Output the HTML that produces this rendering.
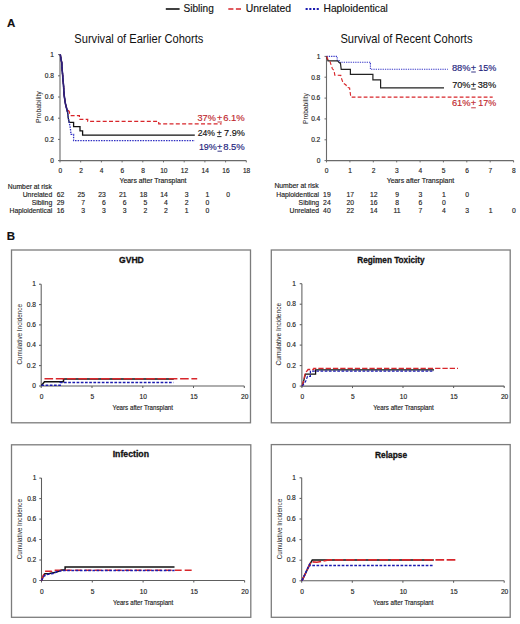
<!DOCTYPE html>
<html><head><meta charset="utf-8"><style>
html,body{margin:0;padding:0;background:#fff;}
svg{display:block;font-family:"Liberation Sans", sans-serif;}
</style></head><body>
<svg width="520" height="624" viewBox="0 0 520 624">
<rect width="520" height="624" fill="#fff"/>
<path d="M165.8,9 H179.6" fill="none" stroke="#111111" stroke-width="1.6"/>
<text x="183.5" y="12.3" font-size="11.2" fill="#111" stroke="#111" stroke-width="0.15" textLength="30.3" lengthAdjust="spacingAndGlyphs">Sibling</text>
<path d="M228.3,9 H241" fill="none" stroke="#d8262b" stroke-width="1.7" stroke-dasharray="5.1,2.5"/>
<text x="245.8" y="12.3" font-size="11.2" fill="#111" stroke="#111" stroke-width="0.15" textLength="45.2" lengthAdjust="spacingAndGlyphs">Unrelated</text>
<path d="M305.6,9 H320" fill="none" stroke="#1c1cb0" stroke-width="1.8" stroke-dasharray="2.1,1.6"/>
<text x="323.5" y="12.3" font-size="11.2" fill="#111" stroke="#111" stroke-width="0.15" textLength="64.4" lengthAdjust="spacingAndGlyphs">Haploidentical</text>
<text x="6.9" y="26.9" font-size="11.5" fill="#111" stroke="#111" stroke-width="0.15" font-weight="bold">A</text>
<text x="6.8" y="239.8" font-size="11.5" fill="#111" stroke="#111" stroke-width="0.15" font-weight="bold">B</text>
<text x="74.3" y="42.5" font-size="13" fill="#111" stroke="#111" stroke-width="0" textLength="129.1" lengthAdjust="spacingAndGlyphs">Survival of Earlier Cohorts</text>
<text x="340.4" y="42.5" font-size="13" fill="#111" stroke="#111" stroke-width="0" textLength="132.1" lengthAdjust="spacingAndGlyphs">Survival of Recent Cohorts</text>
<path d="M60.0,54.6 V160.6 H246.3" fill="none" stroke="#6a6a6a" stroke-width="1.1"/>
<path d="M58.0,160.6 H60.0" fill="none" stroke="#6a6a6a" stroke-width="1"/>
<text x="53.9" y="162.9" font-size="6.6" fill="#222" stroke="#222" stroke-width="0.15" text-anchor="end">0</text>
<path d="M58.0,139.4 H60.0" fill="none" stroke="#6a6a6a" stroke-width="1"/>
<text x="53.9" y="141.7" font-size="6.6" fill="#222" stroke="#222" stroke-width="0.15" text-anchor="end">0.2</text>
<path d="M58.0,118.2 H60.0" fill="none" stroke="#6a6a6a" stroke-width="1"/>
<text x="53.9" y="120.5" font-size="6.6" fill="#222" stroke="#222" stroke-width="0.15" text-anchor="end">0.4</text>
<path d="M58.0,97.0 H60.0" fill="none" stroke="#6a6a6a" stroke-width="1"/>
<text x="53.9" y="99.3" font-size="6.6" fill="#222" stroke="#222" stroke-width="0.15" text-anchor="end">0.6</text>
<path d="M58.0,75.8 H60.0" fill="none" stroke="#6a6a6a" stroke-width="1"/>
<text x="53.9" y="78.1" font-size="6.6" fill="#222" stroke="#222" stroke-width="0.15" text-anchor="end">0.8</text>
<path d="M58.0,54.6 H60.0" fill="none" stroke="#6a6a6a" stroke-width="1"/>
<text x="53.9" y="56.9" font-size="6.6" fill="#222" stroke="#222" stroke-width="0.15" text-anchor="end">1</text>
<path d="M60.0,160.6 V162.4" fill="none" stroke="#6a6a6a" stroke-width="1"/>
<text x="60.3" y="172.9" font-size="6.6" fill="#222" stroke="#222" stroke-width="0.15" text-anchor="middle">0</text>
<path d="M80.7,160.6 V162.4" fill="none" stroke="#6a6a6a" stroke-width="1"/>
<text x="81.0" y="172.9" font-size="6.6" fill="#222" stroke="#222" stroke-width="0.15" text-anchor="middle">2</text>
<path d="M101.4,160.6 V162.4" fill="none" stroke="#6a6a6a" stroke-width="1"/>
<text x="101.7" y="172.9" font-size="6.6" fill="#222" stroke="#222" stroke-width="0.15" text-anchor="middle">4</text>
<path d="M122.1,160.6 V162.4" fill="none" stroke="#6a6a6a" stroke-width="1"/>
<text x="122.4" y="172.9" font-size="6.6" fill="#222" stroke="#222" stroke-width="0.15" text-anchor="middle">6</text>
<path d="M142.8,160.6 V162.4" fill="none" stroke="#6a6a6a" stroke-width="1"/>
<text x="143.1" y="172.9" font-size="6.6" fill="#222" stroke="#222" stroke-width="0.15" text-anchor="middle">8</text>
<path d="M163.5,160.6 V162.4" fill="none" stroke="#6a6a6a" stroke-width="1"/>
<text x="163.8" y="172.9" font-size="6.6" fill="#222" stroke="#222" stroke-width="0.15" text-anchor="middle">10</text>
<path d="M184.2,160.6 V162.4" fill="none" stroke="#6a6a6a" stroke-width="1"/>
<text x="184.5" y="172.9" font-size="6.6" fill="#222" stroke="#222" stroke-width="0.15" text-anchor="middle">12</text>
<path d="M204.9,160.6 V162.4" fill="none" stroke="#6a6a6a" stroke-width="1"/>
<text x="205.2" y="172.9" font-size="6.6" fill="#222" stroke="#222" stroke-width="0.15" text-anchor="middle">14</text>
<path d="M225.6,160.6 V162.4" fill="none" stroke="#6a6a6a" stroke-width="1"/>
<text x="225.9" y="172.9" font-size="6.6" fill="#222" stroke="#222" stroke-width="0.15" text-anchor="middle">16</text>
<path d="M246.3,160.6 V162.4" fill="none" stroke="#6a6a6a" stroke-width="1"/>
<text x="246.6" y="172.9" font-size="6.6" fill="#222" stroke="#222" stroke-width="0.15" text-anchor="middle">18</text>
<text x="119.5" y="183.1" font-size="6.6" fill="#222" stroke="#222" stroke-width="0.15" textLength="67.0" lengthAdjust="spacingAndGlyphs">Years after Transplant</text>
<text transform="translate(41.2,107.2) rotate(-90)" font-size="6.6" fill="#222" text-anchor="middle" textLength="31.8" lengthAdjust="spacingAndGlyphs">Probability</text>
<path d="M60.3,54.5 L61.1,59.6 L61.8,62.8 L62.1,69.2 L62.7,75.6 L63.0,80.1 L63.5,85.0 L64.1,94.6 L64.7,99.1 L65.4,103.6 L66.7,108.7 L68.6,110.6 L69.5,112.0 L69.5,114.5 L71.0,115.6 L79.4,115.6 L79.4,119.4 L87.7,119.4 L87.7,121.3 L158.7,121.3 L158.7,123.8 L221.6,123.8" fill="none" stroke="#d8262b" stroke-width="1.2" stroke-dasharray="4,2.3"/>
<path d="M60.3,54.5 L61.1,59.6 L61.8,62.8 L62.1,69.2 L62.7,75.6 L63.0,80.1 L63.5,85.0 L64.1,94.6 L64.7,99.1 L65.4,103.6 L66.7,108.7 L67.6,112.2 L68.3,118.3 L69.2,122.3 L73.6,122.3 L73.6,126.7 L80.0,126.7 L80.0,130.9 L82.6,130.9 L82.6,135.1 L194.8,135.1" fill="none" stroke="#111111" stroke-width="1.3"/>
<path d="M60.3,54.5 L61.1,59.6 L61.8,62.8 L62.1,69.2 L62.7,75.6 L63.0,80.1 L63.5,85.0 L64.1,94.6 L64.7,99.1 L65.4,103.6 L66.7,108.7 L67.6,112.2 L68.3,118.3 L69.2,122.3 L70.4,128.6 L71.0,134.4 L73.6,134.4 L73.6,140.6 L194.8,140.6" fill="none" stroke="#3030c4" stroke-width="1.3" stroke-dasharray="1.5,1.1"/>
<path d="M60.3,54.5 L61.1,59.6 L61.8,62.8 L62.1,69.2 L62.7,75.6 L63.0,80.1 L63.5,85.0 L64.1,94.6 L64.7,99.1 L65.4,103.6 L66.7,108.7 L67.6,112.2" fill="none" stroke="#30207a" stroke-width="1.6"/>
<text x="197.5" y="120.6" font-size="9" fill="#c0272d" stroke="#c0272d" stroke-width="0.15" textLength="18.3" lengthAdjust="spacingAndGlyphs">37%</text>
<text x="217.1" y="120.6" font-size="9" fill="#c0272d" stroke="#c0272d" stroke-width="0.15" textLength="5.3" lengthAdjust="spacingAndGlyphs">+</text>
<path d="M217.5,122.0 H222.0" fill="none" stroke="#c0272d" stroke-width="0.9"/>
<text x="223.2" y="120.6" font-size="9" fill="#c0272d" stroke="#c0272d" stroke-width="0.15" textLength="21.6" lengthAdjust="spacingAndGlyphs">6.1%</text>
<text x="197.7" y="135.7" font-size="9" fill="#111111" stroke="#111111" stroke-width="0.15" textLength="17.2" lengthAdjust="spacingAndGlyphs">24%</text>
<text x="216.8" y="135.7" font-size="9" fill="#111111" stroke="#111111" stroke-width="0.15" textLength="5.1" lengthAdjust="spacingAndGlyphs">+</text>
<path d="M217.2,136.6 H221.5" fill="none" stroke="#111111" stroke-width="0.9"/>
<text x="224.1" y="135.7" font-size="9" fill="#111111" stroke="#111111" stroke-width="0.15" textLength="20.7" lengthAdjust="spacingAndGlyphs">7.9%</text>
<text x="198.9" y="149.6" font-size="9" fill="#22227c" stroke="#22227c" stroke-width="0.15" textLength="17.9" lengthAdjust="spacingAndGlyphs">19%</text>
<text x="217.1" y="149.6" font-size="9" fill="#22227c" stroke="#22227c" stroke-width="0.15" textLength="5.3" lengthAdjust="spacingAndGlyphs">+</text>
<path d="M217.5,151.2 H222.0" fill="none" stroke="#22227c" stroke-width="0.9"/>
<text x="223.2" y="149.6" font-size="9" fill="#22227c" stroke="#22227c" stroke-width="0.15" textLength="21.6" lengthAdjust="spacingAndGlyphs">8.5%</text>
<text x="7.8" y="188.5" font-size="6.6" fill="#222" stroke="#222" stroke-width="0.15" textLength="44.1" lengthAdjust="spacingAndGlyphs">Number at risk</text>
<text x="52.2" y="196.5" font-size="6.8" fill="#222" stroke="#222" stroke-width="0.15" text-anchor="end">Unrelated</text>
<text x="64.4" y="196.5" font-size="6.8" fill="#222" stroke="#222" stroke-width="0.15" text-anchor="end">62</text>
<text x="85.1" y="196.5" font-size="6.8" fill="#222" stroke="#222" stroke-width="0.15" text-anchor="end">25</text>
<text x="105.8" y="196.5" font-size="6.8" fill="#222" stroke="#222" stroke-width="0.15" text-anchor="end">23</text>
<text x="126.5" y="196.5" font-size="6.8" fill="#222" stroke="#222" stroke-width="0.15" text-anchor="end">21</text>
<text x="147.2" y="196.5" font-size="6.8" fill="#222" stroke="#222" stroke-width="0.15" text-anchor="end">18</text>
<text x="167.9" y="196.5" font-size="6.8" fill="#222" stroke="#222" stroke-width="0.15" text-anchor="end">14</text>
<text x="188.6" y="196.5" font-size="6.8" fill="#222" stroke="#222" stroke-width="0.15" text-anchor="end">3</text>
<text x="209.3" y="196.5" font-size="6.8" fill="#222" stroke="#222" stroke-width="0.15" text-anchor="end">1</text>
<text x="230.0" y="196.5" font-size="6.8" fill="#222" stroke="#222" stroke-width="0.15" text-anchor="end">0</text>
<text x="52.2" y="204.6" font-size="6.8" fill="#222" stroke="#222" stroke-width="0.15" text-anchor="end">Sibling</text>
<text x="64.4" y="204.6" font-size="6.8" fill="#222" stroke="#222" stroke-width="0.15" text-anchor="end">29</text>
<text x="85.1" y="204.6" font-size="6.8" fill="#222" stroke="#222" stroke-width="0.15" text-anchor="end">7</text>
<text x="105.8" y="204.6" font-size="6.8" fill="#222" stroke="#222" stroke-width="0.15" text-anchor="end">6</text>
<text x="126.5" y="204.6" font-size="6.8" fill="#222" stroke="#222" stroke-width="0.15" text-anchor="end">6</text>
<text x="147.2" y="204.6" font-size="6.8" fill="#222" stroke="#222" stroke-width="0.15" text-anchor="end">5</text>
<text x="167.9" y="204.6" font-size="6.8" fill="#222" stroke="#222" stroke-width="0.15" text-anchor="end">4</text>
<text x="188.6" y="204.6" font-size="6.8" fill="#222" stroke="#222" stroke-width="0.15" text-anchor="end">2</text>
<text x="209.3" y="204.6" font-size="6.8" fill="#222" stroke="#222" stroke-width="0.15" text-anchor="end">0</text>
<text x="52.2" y="212.7" font-size="6.8" fill="#222" stroke="#222" stroke-width="0.15" text-anchor="end">Haploidentical</text>
<text x="64.4" y="212.7" font-size="6.8" fill="#222" stroke="#222" stroke-width="0.15" text-anchor="end">16</text>
<text x="85.1" y="212.7" font-size="6.8" fill="#222" stroke="#222" stroke-width="0.15" text-anchor="end">3</text>
<text x="105.8" y="212.7" font-size="6.8" fill="#222" stroke="#222" stroke-width="0.15" text-anchor="end">3</text>
<text x="126.5" y="212.7" font-size="6.8" fill="#222" stroke="#222" stroke-width="0.15" text-anchor="end">3</text>
<text x="147.2" y="212.7" font-size="6.8" fill="#222" stroke="#222" stroke-width="0.15" text-anchor="end">2</text>
<text x="167.9" y="212.7" font-size="6.8" fill="#222" stroke="#222" stroke-width="0.15" text-anchor="end">2</text>
<text x="188.6" y="212.7" font-size="6.8" fill="#222" stroke="#222" stroke-width="0.15" text-anchor="end">1</text>
<text x="209.3" y="212.7" font-size="6.8" fill="#222" stroke="#222" stroke-width="0.15" text-anchor="end">0</text>
<path d="M326.5,56.4 V160.6 H513.6" fill="none" stroke="#6a6a6a" stroke-width="1.1"/>
<path d="M324.5,160.6 H326.5" fill="none" stroke="#6a6a6a" stroke-width="1"/>
<text x="320.3" y="162.9" font-size="6.6" fill="#222" stroke="#222" stroke-width="0.15" text-anchor="end">0</text>
<path d="M324.5,139.8 H326.5" fill="none" stroke="#6a6a6a" stroke-width="1"/>
<text x="320.3" y="142.1" font-size="6.6" fill="#222" stroke="#222" stroke-width="0.15" text-anchor="end">0.2</text>
<path d="M324.5,118.9 H326.5" fill="none" stroke="#6a6a6a" stroke-width="1"/>
<text x="320.3" y="121.2" font-size="6.6" fill="#222" stroke="#222" stroke-width="0.15" text-anchor="end">0.4</text>
<path d="M324.5,98.1 H326.5" fill="none" stroke="#6a6a6a" stroke-width="1"/>
<text x="320.3" y="100.4" font-size="6.6" fill="#222" stroke="#222" stroke-width="0.15" text-anchor="end">0.6</text>
<path d="M324.5,77.2 H326.5" fill="none" stroke="#6a6a6a" stroke-width="1"/>
<text x="320.3" y="79.5" font-size="6.6" fill="#222" stroke="#222" stroke-width="0.15" text-anchor="end">0.8</text>
<path d="M324.5,56.4 H326.5" fill="none" stroke="#6a6a6a" stroke-width="1"/>
<text x="320.3" y="58.7" font-size="6.6" fill="#222" stroke="#222" stroke-width="0.15" text-anchor="end">1</text>
<path d="M326.5,160.6 V162.4" fill="none" stroke="#6a6a6a" stroke-width="1"/>
<text x="326.7" y="172.9" font-size="6.6" fill="#222" stroke="#222" stroke-width="0.15" text-anchor="middle">0</text>
<path d="M349.9,160.6 V162.4" fill="none" stroke="#6a6a6a" stroke-width="1"/>
<text x="350.1" y="172.9" font-size="6.6" fill="#222" stroke="#222" stroke-width="0.15" text-anchor="middle">1</text>
<path d="M373.3,160.6 V162.4" fill="none" stroke="#6a6a6a" stroke-width="1"/>
<text x="373.5" y="172.9" font-size="6.6" fill="#222" stroke="#222" stroke-width="0.15" text-anchor="middle">2</text>
<path d="M396.7,160.6 V162.4" fill="none" stroke="#6a6a6a" stroke-width="1"/>
<text x="396.9" y="172.9" font-size="6.6" fill="#222" stroke="#222" stroke-width="0.15" text-anchor="middle">3</text>
<path d="M420.1,160.6 V162.4" fill="none" stroke="#6a6a6a" stroke-width="1"/>
<text x="420.3" y="172.9" font-size="6.6" fill="#222" stroke="#222" stroke-width="0.15" text-anchor="middle">4</text>
<path d="M443.4,160.6 V162.4" fill="none" stroke="#6a6a6a" stroke-width="1"/>
<text x="443.6" y="172.9" font-size="6.6" fill="#222" stroke="#222" stroke-width="0.15" text-anchor="middle">5</text>
<path d="M466.8,160.6 V162.4" fill="none" stroke="#6a6a6a" stroke-width="1"/>
<text x="467.0" y="172.9" font-size="6.6" fill="#222" stroke="#222" stroke-width="0.15" text-anchor="middle">6</text>
<path d="M490.2,160.6 V162.4" fill="none" stroke="#6a6a6a" stroke-width="1"/>
<text x="490.4" y="172.9" font-size="6.6" fill="#222" stroke="#222" stroke-width="0.15" text-anchor="middle">7</text>
<path d="M513.6,160.6 V162.4" fill="none" stroke="#6a6a6a" stroke-width="1"/>
<text x="513.8" y="172.9" font-size="6.6" fill="#222" stroke="#222" stroke-width="0.15" text-anchor="middle">8</text>
<text x="386.7" y="183.2" font-size="6.6" fill="#222" stroke="#222" stroke-width="0.15" textLength="67.5" lengthAdjust="spacingAndGlyphs">Years after Transplant</text>
<text transform="translate(307.6,108.6) rotate(-90)" font-size="6.6" fill="#222" text-anchor="middle" textLength="30.7" lengthAdjust="spacingAndGlyphs">Probability</text>
<path d="M326.5,56.4 L337.2,56.4 L337.2,60.6 L339.2,60.6 L339.2,62.2 L370.4,62.2 L370.4,69.3 L447.9,69.3" fill="none" stroke="#3838c8" stroke-width="1.1" stroke-dasharray="1.3,1.0"/>
<path d="M326.5,56.4 L328.0,60.8 L337.6,60.8 L339.5,62.8 L340.4,62.8 L341.2,69.4 L350.4,69.4 L350.4,74.4 L372.9,74.4 L372.9,79.8 L380.6,79.8 L380.6,87.9 L444.0,87.9" fill="none" stroke="#222" stroke-width="1.2"/>
<path d="M326.5,56.4 L328.0,59.6 L330.0,61.6 L332.4,68.8 L334.0,70.4 L334.8,75.2 L340.8,75.4 L341.2,77.6 L343.2,83.2 L346.0,84.9 L346.8,87.3 L349.6,88.0 L350.8,97.1 L492.7,97.1" fill="none" stroke="#d8262b" stroke-width="1.15" stroke-dasharray="3.8,2.2"/>
<text x="451.9" y="70.6" font-size="9" fill="#22227c" stroke="#22227c" stroke-width="0.15" textLength="18.6" lengthAdjust="spacingAndGlyphs">88%</text>
<text x="470.8" y="70.6" font-size="9" fill="#22227c" stroke="#22227c" stroke-width="0.15" textLength="5.4" lengthAdjust="spacingAndGlyphs">+</text>
<path d="M471.2,72.0 H475.8" fill="none" stroke="#22227c" stroke-width="0.9"/>
<text x="478.2" y="70.6" font-size="9" fill="#22227c" stroke="#22227c" stroke-width="0.15" textLength="18.1" lengthAdjust="spacingAndGlyphs">15%</text>
<text x="452.2" y="87.6" font-size="9" fill="#111111" stroke="#111111" stroke-width="0.15" textLength="18.3" lengthAdjust="spacingAndGlyphs">70%</text>
<text x="470.8" y="87.6" font-size="9" fill="#111111" stroke="#111111" stroke-width="0.15" textLength="5.4" lengthAdjust="spacingAndGlyphs">+</text>
<path d="M471.2,89.0 H475.8" fill="none" stroke="#111111" stroke-width="0.9"/>
<text x="477.7" y="87.6" font-size="9" fill="#111111" stroke="#111111" stroke-width="0.15" textLength="18.4" lengthAdjust="spacingAndGlyphs">38%</text>
<text x="451.9" y="106.3" font-size="9" fill="#c0272d" stroke="#c0272d" stroke-width="0.15" textLength="18.6" lengthAdjust="spacingAndGlyphs">61%</text>
<text x="470.8" y="106.3" font-size="9" fill="#c0272d" stroke="#c0272d" stroke-width="0.15" textLength="5.4" lengthAdjust="spacingAndGlyphs">+</text>
<path d="M471.2,107.8 H475.8" fill="none" stroke="#c0272d" stroke-width="0.9"/>
<text x="478.2" y="106.3" font-size="9" fill="#c0272d" stroke="#c0272d" stroke-width="0.15" textLength="17.9" lengthAdjust="spacingAndGlyphs">17%</text>
<text x="274.4" y="187.5" font-size="6.6" fill="#222" stroke="#222" stroke-width="0.15" textLength="44.3" lengthAdjust="spacingAndGlyphs">Number at risk</text>
<text x="319.0" y="196.6" font-size="6.8" fill="#222" stroke="#222" stroke-width="0.15" text-anchor="end">Haploidentical</text>
<text x="326.9" y="196.6" font-size="6.8" fill="#222" stroke="#222" stroke-width="0.15" text-anchor="middle">19</text>
<text x="350.3" y="196.6" font-size="6.8" fill="#222" stroke="#222" stroke-width="0.15" text-anchor="middle">17</text>
<text x="373.7" y="196.6" font-size="6.8" fill="#222" stroke="#222" stroke-width="0.15" text-anchor="middle">12</text>
<text x="397.1" y="196.6" font-size="6.8" fill="#222" stroke="#222" stroke-width="0.15" text-anchor="middle">9</text>
<text x="420.5" y="196.6" font-size="6.8" fill="#222" stroke="#222" stroke-width="0.15" text-anchor="middle">3</text>
<text x="443.8" y="196.6" font-size="6.8" fill="#222" stroke="#222" stroke-width="0.15" text-anchor="middle">1</text>
<text x="467.2" y="196.6" font-size="6.8" fill="#222" stroke="#222" stroke-width="0.15" text-anchor="middle">0</text>
<text x="319.0" y="204.7" font-size="6.8" fill="#222" stroke="#222" stroke-width="0.15" text-anchor="end">Sibling</text>
<text x="326.9" y="204.7" font-size="6.8" fill="#222" stroke="#222" stroke-width="0.15" text-anchor="middle">24</text>
<text x="350.3" y="204.7" font-size="6.8" fill="#222" stroke="#222" stroke-width="0.15" text-anchor="middle">20</text>
<text x="373.7" y="204.7" font-size="6.8" fill="#222" stroke="#222" stroke-width="0.15" text-anchor="middle">16</text>
<text x="397.1" y="204.7" font-size="6.8" fill="#222" stroke="#222" stroke-width="0.15" text-anchor="middle">8</text>
<text x="420.5" y="204.7" font-size="6.8" fill="#222" stroke="#222" stroke-width="0.15" text-anchor="middle">6</text>
<text x="443.8" y="204.7" font-size="6.8" fill="#222" stroke="#222" stroke-width="0.15" text-anchor="middle">0</text>
<text x="319.0" y="212.9" font-size="6.8" fill="#222" stroke="#222" stroke-width="0.15" text-anchor="end">Unrelated</text>
<text x="326.9" y="212.9" font-size="6.8" fill="#222" stroke="#222" stroke-width="0.15" text-anchor="middle">40</text>
<text x="350.3" y="212.9" font-size="6.8" fill="#222" stroke="#222" stroke-width="0.15" text-anchor="middle">22</text>
<text x="373.7" y="212.9" font-size="6.8" fill="#222" stroke="#222" stroke-width="0.15" text-anchor="middle">14</text>
<text x="397.1" y="212.9" font-size="6.8" fill="#222" stroke="#222" stroke-width="0.15" text-anchor="middle">11</text>
<text x="420.5" y="212.9" font-size="6.8" fill="#222" stroke="#222" stroke-width="0.15" text-anchor="middle">7</text>
<text x="443.8" y="212.9" font-size="6.8" fill="#222" stroke="#222" stroke-width="0.15" text-anchor="middle">4</text>
<text x="467.2" y="212.9" font-size="6.8" fill="#222" stroke="#222" stroke-width="0.15" text-anchor="middle">3</text>
<text x="490.6" y="212.9" font-size="6.8" fill="#222" stroke="#222" stroke-width="0.15" text-anchor="middle">1</text>
<text x="514.0" y="212.9" font-size="6.8" fill="#222" stroke="#222" stroke-width="0.15" text-anchor="middle">0</text>
<rect x="11.5" y="250" width="239" height="172.8" fill="none" stroke="#7c7c7c" stroke-width="1.3"/>
<text x="119.0" y="262.8" font-size="8.8" fill="#111" stroke="#111" stroke-width="0.3" font-weight="bold" textLength="24.8" lengthAdjust="spacingAndGlyphs">GVHD</text>
<path d="M41.2,284.2 V386.0 H244.3" fill="none" stroke="#5e5e5e" stroke-width="1.05"/>
<path d="M39.0,386.0 H41.2" fill="none" stroke="#5e5e5e" stroke-width="1.05"/>
<text x="36.0" y="388.0" font-size="6.6" fill="#222" stroke="#222" stroke-width="0.15" text-anchor="end">0</text>
<path d="M39.0,365.6 H41.2" fill="none" stroke="#5e5e5e" stroke-width="1.05"/>
<text x="36.0" y="367.6" font-size="6.6" fill="#222" stroke="#222" stroke-width="0.15" text-anchor="end">0.2</text>
<path d="M39.0,345.3 H41.2" fill="none" stroke="#5e5e5e" stroke-width="1.05"/>
<text x="36.0" y="347.3" font-size="6.6" fill="#222" stroke="#222" stroke-width="0.15" text-anchor="end">0.4</text>
<path d="M39.0,324.9 H41.2" fill="none" stroke="#5e5e5e" stroke-width="1.05"/>
<text x="36.0" y="326.9" font-size="6.6" fill="#222" stroke="#222" stroke-width="0.15" text-anchor="end">0.6</text>
<path d="M39.0,304.6 H41.2" fill="none" stroke="#5e5e5e" stroke-width="1.05"/>
<text x="36.0" y="306.6" font-size="6.6" fill="#222" stroke="#222" stroke-width="0.15" text-anchor="end">0.8</text>
<path d="M39.0,284.2 H41.2" fill="none" stroke="#5e5e5e" stroke-width="1.05"/>
<text x="36.0" y="286.2" font-size="6.6" fill="#222" stroke="#222" stroke-width="0.15" text-anchor="end">1</text>
<path d="M41.2,386.0 V388.0" fill="none" stroke="#5e5e5e" stroke-width="1.05"/>
<text x="41.6" y="399.2" font-size="6.6" fill="#222" stroke="#222" stroke-width="0.15" text-anchor="middle">0</text>
<path d="M92.0,386.0 V388.0" fill="none" stroke="#5e5e5e" stroke-width="1.05"/>
<text x="92.4" y="399.2" font-size="6.6" fill="#222" stroke="#222" stroke-width="0.15" text-anchor="middle">5</text>
<path d="M142.8,386.0 V388.0" fill="none" stroke="#5e5e5e" stroke-width="1.05"/>
<text x="143.2" y="399.2" font-size="6.6" fill="#222" stroke="#222" stroke-width="0.15" text-anchor="middle">10</text>
<path d="M193.5,386.0 V388.0" fill="none" stroke="#5e5e5e" stroke-width="1.05"/>
<text x="193.9" y="399.2" font-size="6.6" fill="#222" stroke="#222" stroke-width="0.15" text-anchor="middle">15</text>
<path d="M244.3,386.0 V388.0" fill="none" stroke="#5e5e5e" stroke-width="1.05"/>
<text x="244.7" y="399.2" font-size="6.6" fill="#222" stroke="#222" stroke-width="0.15" text-anchor="middle">20</text>
<text x="112.6" y="410.1" font-size="6.6" fill="#222" stroke="#222" stroke-width="0.15" textLength="60.4" lengthAdjust="spacingAndGlyphs">Years after Transplant</text>
<text transform="translate(21.5,334.3) rotate(-90)" font-size="6.8" fill="#222" text-anchor="middle" textLength="60.6" lengthAdjust="spacingAndGlyphs">Cumulative Incidence</text>
<path d="M41.4,385.5 L44.5,381.8 L63.5,381.8 L63.5,379.0 L173.8,379.0" fill="none" stroke="#111111" stroke-width="1.5"/>
<path d="M44.5,378.8 L197.2,378.8" fill="none" stroke="#d8262b" stroke-width="1.6" stroke-dasharray="8.6,2.7"/>
<path d="M41.4,385.2 L60.2,385.2 L60.2,382.6 L173.5,382.6" fill="none" stroke="#1c1cb0" stroke-width="1.5" stroke-dasharray="2.7,1.5"/>
<rect x="271.3" y="250" width="238.9" height="172.8" fill="none" stroke="#7c7c7c" stroke-width="1.3"/>
<text x="357.3" y="263.1" font-size="8.8" fill="#111" stroke="#111" stroke-width="0.3" font-weight="bold" textLength="67.3" lengthAdjust="spacingAndGlyphs">Regimen Toxicity</text>
<path d="M301.9,283.7 V386.1 H504.2" fill="none" stroke="#5e5e5e" stroke-width="1.05"/>
<path d="M299.7,386.1 H301.9" fill="none" stroke="#5e5e5e" stroke-width="1.05"/>
<text x="296.0" y="388.1" font-size="6.6" fill="#222" stroke="#222" stroke-width="0.15" text-anchor="end">0</text>
<path d="M299.7,365.6 H301.9" fill="none" stroke="#5e5e5e" stroke-width="1.05"/>
<text x="296.0" y="367.6" font-size="6.6" fill="#222" stroke="#222" stroke-width="0.15" text-anchor="end">0.2</text>
<path d="M299.7,345.1 H301.9" fill="none" stroke="#5e5e5e" stroke-width="1.05"/>
<text x="296.0" y="347.1" font-size="6.6" fill="#222" stroke="#222" stroke-width="0.15" text-anchor="end">0.4</text>
<path d="M299.7,324.7 H301.9" fill="none" stroke="#5e5e5e" stroke-width="1.05"/>
<text x="296.0" y="326.7" font-size="6.6" fill="#222" stroke="#222" stroke-width="0.15" text-anchor="end">0.6</text>
<path d="M299.7,304.2 H301.9" fill="none" stroke="#5e5e5e" stroke-width="1.05"/>
<text x="296.0" y="306.2" font-size="6.6" fill="#222" stroke="#222" stroke-width="0.15" text-anchor="end">0.8</text>
<path d="M299.7,283.7 H301.9" fill="none" stroke="#5e5e5e" stroke-width="1.05"/>
<text x="296.0" y="285.7" font-size="6.6" fill="#222" stroke="#222" stroke-width="0.15" text-anchor="end">1</text>
<path d="M301.9,386.1 V388.1" fill="none" stroke="#5e5e5e" stroke-width="1.05"/>
<text x="302.3" y="399.3" font-size="6.6" fill="#222" stroke="#222" stroke-width="0.15" text-anchor="middle">0</text>
<path d="M352.5,386.1 V388.1" fill="none" stroke="#5e5e5e" stroke-width="1.05"/>
<text x="352.9" y="399.3" font-size="6.6" fill="#222" stroke="#222" stroke-width="0.15" text-anchor="middle">5</text>
<path d="M403.0,386.1 V388.1" fill="none" stroke="#5e5e5e" stroke-width="1.05"/>
<text x="403.4" y="399.3" font-size="6.6" fill="#222" stroke="#222" stroke-width="0.15" text-anchor="middle">10</text>
<path d="M453.6,386.1 V388.1" fill="none" stroke="#5e5e5e" stroke-width="1.05"/>
<text x="454.0" y="399.3" font-size="6.6" fill="#222" stroke="#222" stroke-width="0.15" text-anchor="middle">15</text>
<path d="M504.2,386.1 V388.1" fill="none" stroke="#5e5e5e" stroke-width="1.05"/>
<text x="504.6" y="399.3" font-size="6.6" fill="#222" stroke="#222" stroke-width="0.15" text-anchor="middle">20</text>
<text x="373.3" y="410.2" font-size="6.6" fill="#222" stroke="#222" stroke-width="0.15" textLength="60.4" lengthAdjust="spacingAndGlyphs">Years after Transplant</text>
<text transform="translate(281.3,334.2) rotate(-90)" font-size="6.8" fill="#222" text-anchor="middle" textLength="62.5" lengthAdjust="spacingAndGlyphs">Cumulative Incidence</text>
<path d="M302.3,386.0 L305.5,374.0 L315.6,374.0 L315.6,369.9 L434.0,369.9" fill="none" stroke="#111111" stroke-width="1.25"/>
<path d="M302.3,386.0 L305.2,373.5 L306.3,371.8 L308.1,369.5 L313.8,369.5 L313.8,368.3 L458.0,368.3" fill="none" stroke="#d8262b" stroke-width="1.3" stroke-dasharray="5.3,2"/>
<path d="M302.3,386.0 L305.8,381.0 L307.5,376.4 L310.4,376.4 L310.4,371.0 L434.0,371.0" fill="none" stroke="#1c1cb0" stroke-width="1.25" stroke-dasharray="2.7,1.5"/>
<rect x="11.5" y="444.8" width="239.3" height="172.5" fill="none" stroke="#7c7c7c" stroke-width="1.3"/>
<text x="112.7" y="457.1" font-size="8.8" fill="#111" stroke="#111" stroke-width="0.3" font-weight="bold" textLength="36.3" lengthAdjust="spacingAndGlyphs">Infection</text>
<path d="M41.5,478.1 V580.5 H244.6" fill="none" stroke="#5e5e5e" stroke-width="1.05"/>
<path d="M39.3,580.5 H41.5" fill="none" stroke="#5e5e5e" stroke-width="1.05"/>
<text x="36.3" y="582.5" font-size="6.6" fill="#222" stroke="#222" stroke-width="0.15" text-anchor="end">0</text>
<path d="M39.3,560.0 H41.5" fill="none" stroke="#5e5e5e" stroke-width="1.05"/>
<text x="36.3" y="562.0" font-size="6.6" fill="#222" stroke="#222" stroke-width="0.15" text-anchor="end">0.2</text>
<path d="M39.3,539.5 H41.5" fill="none" stroke="#5e5e5e" stroke-width="1.05"/>
<text x="36.3" y="541.5" font-size="6.6" fill="#222" stroke="#222" stroke-width="0.15" text-anchor="end">0.4</text>
<path d="M39.3,519.1 H41.5" fill="none" stroke="#5e5e5e" stroke-width="1.05"/>
<text x="36.3" y="521.1" font-size="6.6" fill="#222" stroke="#222" stroke-width="0.15" text-anchor="end">0.6</text>
<path d="M39.3,498.6 H41.5" fill="none" stroke="#5e5e5e" stroke-width="1.05"/>
<text x="36.3" y="500.6" font-size="6.6" fill="#222" stroke="#222" stroke-width="0.15" text-anchor="end">0.8</text>
<path d="M39.3,478.1 H41.5" fill="none" stroke="#5e5e5e" stroke-width="1.05"/>
<text x="36.3" y="480.1" font-size="6.6" fill="#222" stroke="#222" stroke-width="0.15" text-anchor="end">1</text>
<path d="M41.5,580.5 V582.5" fill="none" stroke="#5e5e5e" stroke-width="1.05"/>
<text x="41.9" y="593.7" font-size="6.6" fill="#222" stroke="#222" stroke-width="0.15" text-anchor="middle">0</text>
<path d="M92.3,580.5 V582.5" fill="none" stroke="#5e5e5e" stroke-width="1.05"/>
<text x="92.7" y="593.7" font-size="6.6" fill="#222" stroke="#222" stroke-width="0.15" text-anchor="middle">5</text>
<path d="M143.1,580.5 V582.5" fill="none" stroke="#5e5e5e" stroke-width="1.05"/>
<text x="143.5" y="593.7" font-size="6.6" fill="#222" stroke="#222" stroke-width="0.15" text-anchor="middle">10</text>
<path d="M193.8,580.5 V582.5" fill="none" stroke="#5e5e5e" stroke-width="1.05"/>
<text x="194.2" y="593.7" font-size="6.6" fill="#222" stroke="#222" stroke-width="0.15" text-anchor="middle">15</text>
<path d="M244.6,580.5 V582.5" fill="none" stroke="#5e5e5e" stroke-width="1.05"/>
<text x="245.0" y="593.7" font-size="6.6" fill="#222" stroke="#222" stroke-width="0.15" text-anchor="middle">20</text>
<text x="112.9" y="604.6" font-size="6.6" fill="#222" stroke="#222" stroke-width="0.15" textLength="60.4" lengthAdjust="spacingAndGlyphs">Years after Transplant</text>
<text transform="translate(22.1,529.1) rotate(-90)" font-size="6.8" fill="#222" text-anchor="middle" textLength="60.2" lengthAdjust="spacingAndGlyphs">Cumulative Incidence</text>
<path d="M41.5,580.5 L43.8,575.0 L44.9,573.8 L49.5,573.5 L56.0,572.3 L61.6,570.1 L65.1,570.1 L65.1,567.1 L174.5,567.1" fill="none" stroke="#111111" stroke-width="1.5"/>
<path d="M41.5,580.5 L44.9,571.3 L51.8,571.3 L53.0,570.2 L194.5,570.2" fill="none" stroke="#d8262b" stroke-width="1.6" stroke-dasharray="7,3"/>
<path d="M41.5,580.5 L44.0,576.0 L47.2,574.4 L53.0,573.6 L57.0,571.5 L62.8,570.4 L174.5,570.4" fill="none" stroke="#1c1cb0" stroke-width="1.5" stroke-dasharray="2.7,1.5"/>
<rect x="271.3" y="444.6" width="238.9" height="172.7" fill="none" stroke="#7c7c7c" stroke-width="1.3"/>
<text x="375.0" y="457.5" font-size="8.8" fill="#111" stroke="#111" stroke-width="0.3" font-weight="bold" textLength="32.1" lengthAdjust="spacingAndGlyphs">Relapse</text>
<path d="M301.7,477.8 V580.8 H504.2" fill="none" stroke="#5e5e5e" stroke-width="1.05"/>
<path d="M299.5,580.8 H301.7" fill="none" stroke="#5e5e5e" stroke-width="1.05"/>
<text x="295.8" y="582.8" font-size="6.6" fill="#222" stroke="#222" stroke-width="0.15" text-anchor="end">0</text>
<path d="M299.5,560.2 H301.7" fill="none" stroke="#5e5e5e" stroke-width="1.05"/>
<text x="295.8" y="562.2" font-size="6.6" fill="#222" stroke="#222" stroke-width="0.15" text-anchor="end">0.2</text>
<path d="M299.5,539.6 H301.7" fill="none" stroke="#5e5e5e" stroke-width="1.05"/>
<text x="295.8" y="541.6" font-size="6.6" fill="#222" stroke="#222" stroke-width="0.15" text-anchor="end">0.4</text>
<path d="M299.5,519.0 H301.7" fill="none" stroke="#5e5e5e" stroke-width="1.05"/>
<text x="295.8" y="521.0" font-size="6.6" fill="#222" stroke="#222" stroke-width="0.15" text-anchor="end">0.6</text>
<path d="M299.5,498.4 H301.7" fill="none" stroke="#5e5e5e" stroke-width="1.05"/>
<text x="295.8" y="500.4" font-size="6.6" fill="#222" stroke="#222" stroke-width="0.15" text-anchor="end">0.8</text>
<path d="M299.5,477.8 H301.7" fill="none" stroke="#5e5e5e" stroke-width="1.05"/>
<text x="295.8" y="479.8" font-size="6.6" fill="#222" stroke="#222" stroke-width="0.15" text-anchor="end">1</text>
<path d="M301.7,580.8 V582.8" fill="none" stroke="#5e5e5e" stroke-width="1.05"/>
<text x="302.1" y="594.0" font-size="6.6" fill="#222" stroke="#222" stroke-width="0.15" text-anchor="middle">0</text>
<path d="M352.3,580.8 V582.8" fill="none" stroke="#5e5e5e" stroke-width="1.05"/>
<text x="352.7" y="594.0" font-size="6.6" fill="#222" stroke="#222" stroke-width="0.15" text-anchor="middle">5</text>
<path d="M402.9,580.8 V582.8" fill="none" stroke="#5e5e5e" stroke-width="1.05"/>
<text x="403.3" y="594.0" font-size="6.6" fill="#222" stroke="#222" stroke-width="0.15" text-anchor="middle">10</text>
<path d="M453.6,580.8 V582.8" fill="none" stroke="#5e5e5e" stroke-width="1.05"/>
<text x="454.0" y="594.0" font-size="6.6" fill="#222" stroke="#222" stroke-width="0.15" text-anchor="middle">15</text>
<path d="M504.2,580.8 V582.8" fill="none" stroke="#5e5e5e" stroke-width="1.05"/>
<text x="504.6" y="594.0" font-size="6.6" fill="#222" stroke="#222" stroke-width="0.15" text-anchor="middle">20</text>
<text x="373.1" y="604.9" font-size="6.6" fill="#222" stroke="#222" stroke-width="0.15" textLength="60.4" lengthAdjust="spacingAndGlyphs">Years after Transplant</text>
<text transform="translate(282.1,529.0) rotate(-90)" font-size="6.8" fill="#222" text-anchor="middle" textLength="60.5" lengthAdjust="spacingAndGlyphs">Cumulative Incidence</text>
<path d="M302.0,580.6 L309.4,565.2 L312.3,559.9 L433.8,559.9" fill="none" stroke="#111111" stroke-width="1.5"/>
<path d="M302.0,580.6 L311.1,561.7 L316.9,562.3 L322.7,561.1 L328.4,559.9 L455.4,559.9" fill="none" stroke="#d8262b" stroke-width="1.6" stroke-dasharray="8.7,2.5"/>
<path d="M302.0,580.6 L309.4,564.6 L310.0,565.5 L433.8,565.5" fill="none" stroke="#1c1cb0" stroke-width="1.5" stroke-dasharray="2.7,1.5"/>
</svg>
</body></html>
